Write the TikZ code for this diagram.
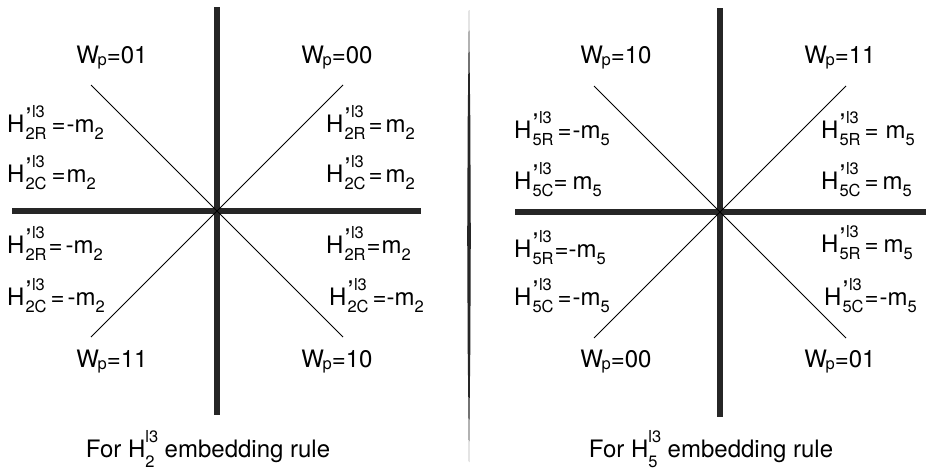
\documentclass[tikz,border=0pt]{standalone}
\usepackage{fontspec}
\setmainfont{TeX Gyre Heros}
\usetikzlibrary{positioning}
\newcommand{\scr}{\fontsize{16.5}{16}\selectfont}
\newcommand{\hp}[2]{H\kern1pt\rlap{\raisebox{0.2em}{\fontsize{27}{27}\selectfont ’}\kern0.5pt\raisebox{0.62em}{\scr l3}}\raisebox{-0.33em}{\scr #1}#2}
\newcommand{\sbs}[1]{\raisebox{-0.3em}{\scr #1}}
\newcommand{\wlab}[1]{W\kern-1.5pt\raisebox{-0.12em}{\scr p}=#1}
\newcommand{\rulecap}[1]{For H\rlap{\raisebox{0.6em}{\scr l3}}\raisebox{-0.42em}{\scr #1}\kern3.5pt{} embedding rule}

\begin{document}
\begin{tikzpicture}[x=1pt,y=-1pt,axis/.style={line width=5.5pt,draw=black!85},diag/.style={line width=0.9pt},
  every node/.style={font=\fontsize{24}{28}\selectfont,inner sep=0pt},hl/.style={anchor=base west},wl/.style={anchor=base}]
\useasboundingbox (0,0) rectangle (934,472);
% left: H2
\coordinate (cL) at (217,211);
\coordinate (tL) at (217,7); \coordinate (bL) at (217,415);
\coordinate (lL) at (12,211); \coordinate (rL) at (421,211);
\draw[axis] (tL) -- (bL); \draw[axis] (lL) -- (rL);
\draw[diag] (91,85) -- (cL) -- (343,337);
\draw[diag] (91,337) -- (cL) -- (343,85);
\node[wl] (wL01) at (112,63) {\wlab{01}};
\node[wl] (wL00) at (337,63) {\wlab{00}};
\node[wl] (wL11) at (112,367) {\wlab{11}};
\node[wl] (wL10) at (337,367) {\wlab{10}};
\node[hl] (hLa) at (7,132) {\hp{2R}{\kern5pt=\kern1pt-m\sbs{2}}};
\node[hl] (hLb) at (7,182) {\hp{2C}{\kern5pt=\kern1pt m\sbs{2}}};
\node[hl] (hLc) at (326,132) {\hp{2R}{\kern3pt=\kern3pt m\sbs{2}}};
\node[hl] (hLd) at (326,182) {\hp{2C}{\kern3pt=\kern3pt m\sbs{2}}};
\node[hl] (hLe) at (7,253) {\hp{2R}{\kern2pt=\kern3pt-m\sbs{2}}};
\node[hl] (hLf) at (7,305) {\hp{2C}{\kern4pt=\kern3pt-m\sbs{2}}};
\node[hl] (hLg) at (326,253) {\hp{2R}{\kern1pt=\kern1pt m\sbs{2}}};
\node[hl] (hLh) at (329,305) {\hp{2C}{\kern4pt=-m\sbs{2}}};
\node[wl] (capL) at (208,457) {\rulecap{2}};
% divider
\fill[black!85] (469,10) -- (470.3,120) -- (470.8,236) -- (470.3,350) -- (469,462) -- (467.7,350) -- (467.2,236) -- (467.7,120) -- cycle;
% right: H5
\coordinate (cR) at (720,212);
\coordinate (tR) at (720,8); \coordinate (bR) at (720,417);
\coordinate (lR) at (515,212); \coordinate (rR) at (926,212);
\draw[axis] (tR) -- (bR); \draw[axis] (lR) -- (rR);
\draw[diag] (594,86) -- (cR) -- (846,338);
\draw[diag] (594,338) -- (cR) -- (846,86);
\node[wl] (wR10) at (616,63) {\wlab{10}};
\node[wl] (wR11) at (840,63) {\wlab{11}};
\node[wl] (wR00) at (616,367) {\wlab{00}};
\node[wl] (wR01) at (840,367) {\wlab{01}};
\node[hl] (hRa) at (514,138) {\hp{5R}{\kern4pt=\kern1pt-m\sbs{5}}};
\node[hl] (hRb) at (514,189) {\hp{5C}{=\kern5pt m\sbs{5}}};
\node[hl] (hRc) at (821,138) {\hp{5R}{\kern4pt=\kern7pt m\sbs{5}}};
\node[hl] (hRd) at (821,189) {\hp{5C}{\kern4pt=\kern4pt m\sbs{5}}};
\node[hl] (hRe) at (514,257) {\hp{5R}{\kern1pt=-m\sbs{5}}};
\node[hl] (hRf) at (514,305) {\hp{5C}{\kern4pt=\kern1pt-m\sbs{5}}};
\node[hl] (hRg) at (821,252) {\hp{5R}{\kern4pt=\kern5pt m\sbs{5}}};
\node[hl] (hRh) at (824,305) {\hp{5C}{\kern1pt=\kern1pt-m\sbs{5}}};
\node[wl] (capR) at (711,457) {\rulecap{5}};
\end{tikzpicture}
\end{document}
